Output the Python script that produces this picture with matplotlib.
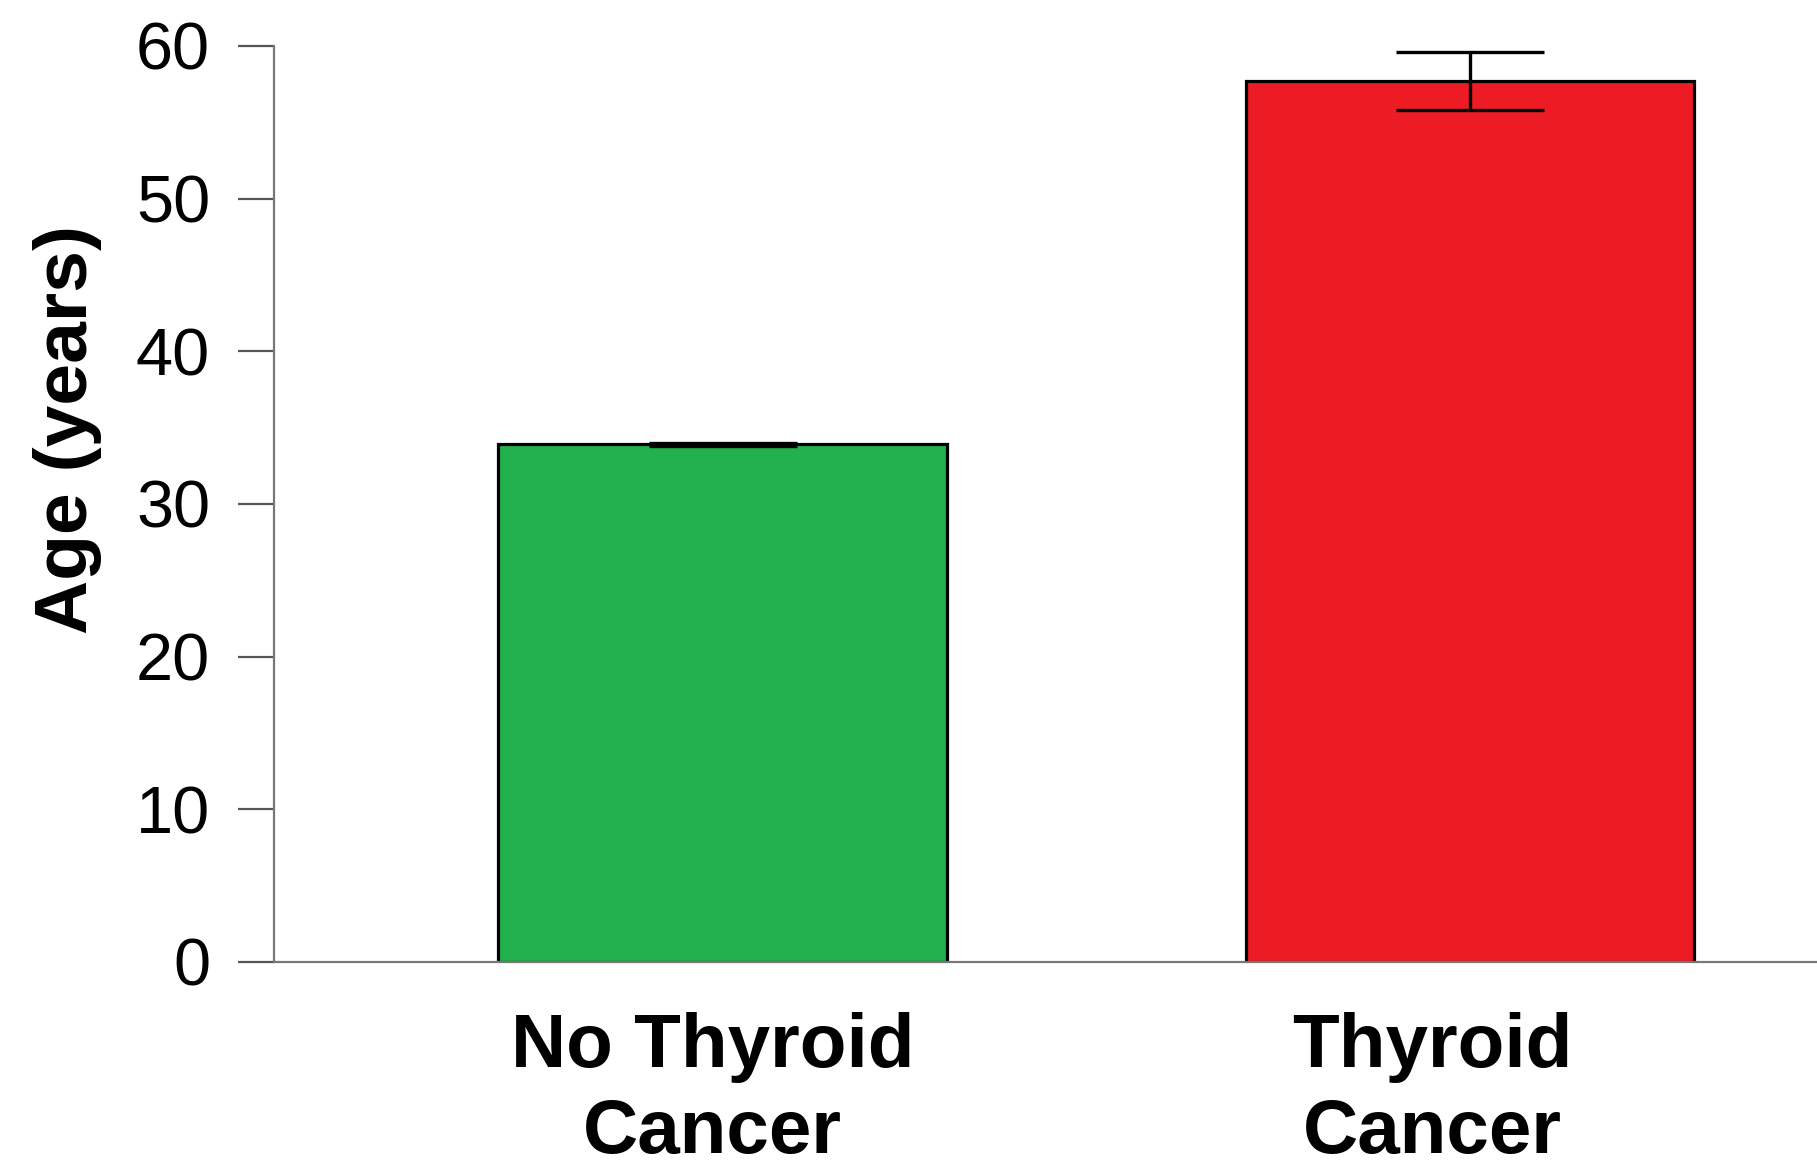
import matplotlib
matplotlib.use("Agg")
import matplotlib.pyplot as plt
from matplotlib.transforms import ScaledTranslation

categories = ["No Thyroid\nCancer", "Thyroid\nCancer"]
means = [33.9, 57.7]
errors = [0.08, 1.9]
colors = ["#22B14C", "#ED1C24"]
yticks = [0, 10, 20, 30, 40, 50, 60]

plt.rcParams['font.family'] = ['Liberation Sans', 'DejaVu Sans']

fig = plt.figure(figsize=(18.17, 11.65), dpi=100)
ax = fig.add_axes([274/1817, 1 - 962/1165, 1 - 274/1817, (962 - 46)/1165])

x = list(range(len(categories)))
ax.bar(x, means, width=0.6, color=colors, edgecolor="black", linewidth=2.3, zorder=2)
ax.errorbar(x, means, yerr=errors, fmt="none", ecolor="black", elinewidth=2.4,
            capsize=53.5, capthick=2.4, zorder=3)

ax.set_xlim(-0.6, 1.464)
ax.set_ylim(0, 60)
ax.set_yticks(yticks)
ax.set_yticklabels([str(t) for t in yticks], fontsize=48)
ax.tick_params(axis="y", length=26, width=1.6, color="#555555", pad=20)
ax.set_xticks(x)
ax.set_xticklabels(categories, fontsize=55, fontweight="bold", linespacing=1.28)
ax.tick_params(axis="x", length=0, pad=36)

offsets = [-10, -38]
for lab, dx in zip(ax.get_xticklabels(), offsets):
    lab.set_transform(lab.get_transform() + ScaledTranslation(dx/100, 0, fig.dpi_scale_trans))

for s in ["top", "right"]:
    ax.spines[s].set_visible(False)
for s in ["left", "bottom"]:
    ax.spines[s].set_color("#777777")
    ax.spines[s].set_linewidth(1.6)

fig.text(68/1817, 1 - 430/1165, "Age (years)", rotation=90, ha="center", va="center",
         fontsize=54, fontweight="bold")

fig.savefig("out.png", dpi=100, facecolor="white")
